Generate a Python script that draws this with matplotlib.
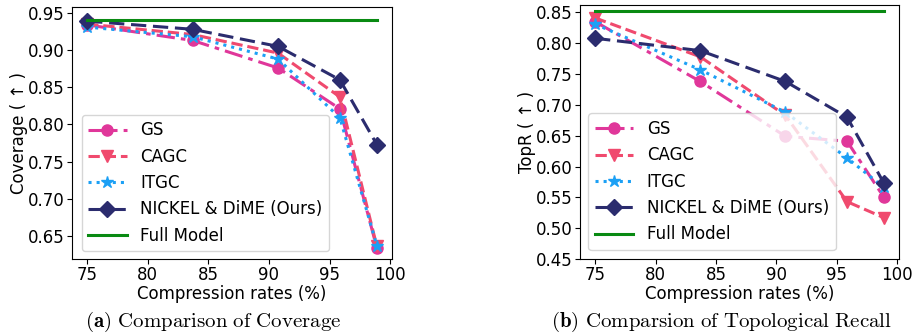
import matplotlib
matplotlib.use("Agg")
import matplotlib.pyplot as plt

plt.rcParams['mathtext.fontset'] = 'cm'

rates = [75, 83.7, 90.75, 95.85, 98.9]

cov_gs = [0.934, 0.913, 0.876, 0.821, 0.634]
cov_cagc = [0.935, 0.921, 0.896, 0.837, 0.636]
cov_itgc = [0.931, 0.918, 0.888, 0.809, 0.637]
cov_nickel = [0.939, 0.928, 0.905, 0.860, 0.773]
cov_full = 0.940

topr_gs = [0.835, 0.738, 0.649, 0.641, 0.550]
topr_cagc = [0.841, 0.778, 0.683, 0.543, 0.517]
topr_itgc = [0.831, 0.757, 0.688, 0.614, 0.566]
topr_nickel = [0.808, 0.788, 0.738, 0.680, 0.573]
topr_full = 0.852

labels = ["GS", "CAGC", "ITGC", "NICKEL & DiME (Ours)", "Full Model"]
captions = [r"$\mathbf{(a)}$ $\mathrm{Comparison\ of\ Coverage}$",
            r"$\mathbf{(b)}$ $\mathrm{Comparsion\ of\ Topological\ Recall}$"]

c_gs = '#E0379A'
c_cagc = '#F04A6E'
c_itgc = '#1CA0F5'
c_nickel = '#2B2C6E'
c_full = '#098A12'

fs = 12
lfs = 12
fig = plt.figure(figsize=(9.15, 3.33), dpi=100)
ax1 = fig.add_axes([72/915, 74/333, 320/915, 252/333])
ax2 = fig.add_axes([580/915, 74/333, 319/915, 254/333])

def draw(ax, gs, cagc, itgc, nickel, full, ylabel, anchor):
    ax.plot(rates, gs, linestyle='-.', marker='o', color=c_gs, lw=2.2, ms=8, dashes=(6, 2, 1.5, 2), label=labels[0])
    ax.plot(rates, cagc, linestyle='--', marker='v', color=c_cagc, lw=2.2, ms=8, label=labels[1])
    ax.plot(rates, itgc, linestyle=':', marker='*', color=c_itgc, lw=2.2, ms=9, label=labels[2])
    ax.plot(rates, nickel, linestyle='--', marker='D', color=c_nickel, lw=2.2, ms=8, dashes=(5, 2.2), label=labels[3])
    ax.plot([rates[0], rates[-1]], [full, full], color=c_full, lw=2.2, label=labels[4])
    ax.set_ylabel(ylabel, fontsize=fs, labelpad=0.5)
    ax.set_xlabel("Compression rates (%)", fontsize=fs, labelpad=1)
    ax.tick_params(labelsize=fs, pad=1.5)
    ax.set_xticks([75, 80, 85, 90, 95, 100])
    ax.legend(loc='lower left', bbox_to_anchor=anchor, borderaxespad=0, fontsize=lfs,
              handlelength=2.3, labelspacing=0.5, borderpad=0.4, handletextpad=0.8)

draw(ax1, cov_gs, cov_cagc, cov_itgc, cov_nickel, cov_full, "Coverage ( \u2191 )", (0.03, 0.03))
ax1.set_xlim(73.75, 100.15)
ax1.set_ylim(0.619, 0.958)
ax1.set_yticks([0.65, 0.70, 0.75, 0.80, 0.85, 0.90, 0.95])

draw(ax2, topr_gs, topr_cagc, topr_itgc, topr_nickel, topr_full, "TopR ( \u2191 )", (0.026, 0.035))
ax2.set_xlim(73.75, 100.15)
ax2.set_ylim(0.45, 0.862)
ax2.set_yticks([0.45, 0.50, 0.55, 0.60, 0.65, 0.70, 0.75, 0.80, 0.85])

fig.text(213/915, 1 - 326.5/333, captions[0], ha='center', va='baseline', fontsize=15)
fig.text(721/915, 1 - 326.5/333, captions[1], ha='center', va='baseline', fontsize=15)

fig.savefig("out.png", dpi=100)
